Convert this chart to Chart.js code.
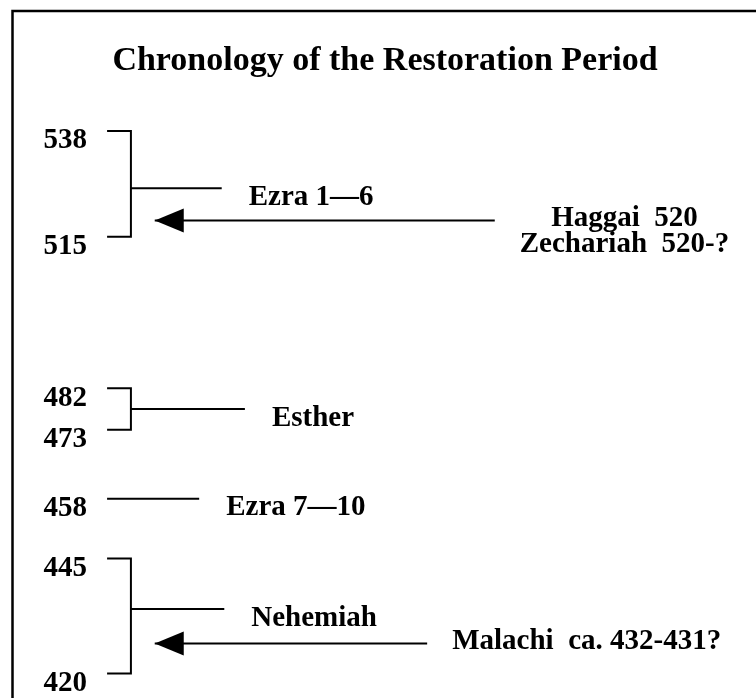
<!DOCTYPE html>
<html lang="en">
<head>
<meta charset="UTF-8">
<title>Chronology of the Restoration Period</title>
<script src="https://cdn.jsdelivr.net/npm/chart.js"></script>
<style>
  html, body { margin: 0; padding: 0; background: #fff; }
  #wrap { width: 756px; height: 698px; }
</style>
</head>
<body>
<div id="wrap"><canvas id="myChart"></canvas></div>
<script>
// years shown on the left (BC)
const years = [538, 515, 482, 473, 458, 445, 420];

// books and the span of years they cover
const periodNames = ['Ezra 1\u20146', 'Esther', 'Ezra 7\u201410', 'Nehemiah'];
const periodStart = [538, 482, 458, 445];
const periodEnd   = [515, 473, 458, 420];
const periodMid   = [525.5, 477.5, 458, 434];   // where the connector leaves the bracket

// prophets, with the year their arrow points at
const prophetNames = [['Haggai  520', 'Zechariah  520-?'], ['Malachi  ca. 432-431?']];
const prophetYear  = [518.5, 426.5];

// horizontal layout, x axis runs 0..100
const lay = {
  tickX: 1.1,
  spineX: 4.8,
  lineEnd: [18.9, 22.5, 15.4, 19.3],
  arrowTip: 8.5,
  arrowTail: [61.3, 50.8]
};

const FONT = '"Liberation Serif", "Times New Roman", serif';

const datasets = [];
periodNames.forEach((name, i) => {
  if (periodStart[i] !== periodEnd[i]) {
    datasets.push({
      data: [
        { x: lay.tickX, y: periodStart[i] },
        { x: lay.spineX, y: periodStart[i] },
        { x: lay.spineX, y: periodEnd[i] },
        { x: lay.tickX, y: periodEnd[i] }
      ]
    });
    datasets.push({
      label: name, kind: 'period',
      data: [{ x: lay.spineX, y: periodMid[i] }, { x: lay.lineEnd[i], y: periodMid[i] }]
    });
  } else {
    datasets.push({
      label: name, kind: 'period',
      data: [{ x: lay.tickX, y: periodMid[i] }, { x: lay.lineEnd[i], y: periodMid[i] }]
    });
  }
});
prophetNames.forEach((lines, i) => {
  datasets.push({
    label: lines.join(' / '), kind: 'arrow', lines: lines,
    data: [{ x: lay.arrowTail[i], y: prophetYear[i] }, { x: lay.arrowTip, y: prophetYear[i] }]
  });
});
datasets.forEach(d => {
  d.showLine = true;
  d.borderColor = '#000';
  d.borderWidth = 2;
  d.pointRadius = 0;
  d.pointHoverRadius = 0;
  d.fill = false;
});

// frame, arrow heads and the text next to the lines
const extras = {
  id: 'extras',
  beforeDraw(chart) {
    const ctx = chart.ctx;
    ctx.save();
    ctx.strokeStyle = '#000';
    ctx.lineWidth = 2.5;
    ctx.beginPath();
    ctx.moveTo(12.5, chart.height + 5);
    ctx.lineTo(12.5, 11);
    ctx.lineTo(chart.width + 5, 11);
    ctx.stroke();
    ctx.restore();
  },
  afterDatasetsDraw(chart) {
    const ctx = chart.ctx;
    const xs = chart.scales.x, ys = chart.scales.y;
    ctx.save();
    ctx.fillStyle = '#000';
    ctx.font = 'bold 29px ' + FONT;
    ctx.textBaseline = 'middle';
    chart.data.datasets.forEach(d => {
      if (!d.kind) return;
      const first = d.data[0], last = d.data[d.data.length - 1];
      if (d.kind === 'period') {
        ctx.textAlign = 'left';
        ctx.fillText(d.label, xs.getPixelForValue(last.x) + 27, ys.getPixelForValue(last.y) + 9);
      } else {
        const tx = xs.getPixelForValue(last.x), ty = ys.getPixelForValue(last.y);
        ctx.beginPath();
        ctx.moveTo(tx, ty);
        ctx.lineTo(tx + 29, ty - 12);
        ctx.lineTo(tx + 29, ty + 12);
        ctx.closePath();
        ctx.fill();
        const x0 = xs.getPixelForValue(first.x) + 25;
        const maxW = Math.max(...d.lines.map(s => ctx.measureText(s).width));
        ctx.textAlign = 'center';
        d.lines.forEach((s, k) => {
          ctx.fillText(s, x0 + maxW / 2, ty - 2 + k * 26);
        });
      }
    });
    ctx.restore();
  }
};

new Chart(document.getElementById('myChart'), {
  type: 'scatter',
  data: { datasets: datasets },
  options: {
    responsive: true,
    maintainAspectRatio: false,
    animation: false,
    layout: { padding: { left: 26, right: 12, top: 0, bottom: 20 } },
    plugins: {
      legend: { display: false },
      tooltip: { enabled: false },
      title: {
        display: true,
        text: 'Chronology of the Restoration Period',
        color: '#000',
        font: { family: FONT, size: 34, weight: 'bold' },
        padding: { top: 41, bottom: 10 }
      }
    },
    scales: {
      x: { type: 'linear', min: 0, max: 100, display: false },
      y: {
        type: 'linear',
        min: 419,
        max: 546.5,
        afterBuildTicks: axis => { axis.ticks = years.map(v => ({ value: v })); },
        afterFit: axis => {
          axis.width = 74;
          axis.paddingTop = 0;
          axis.paddingBottom = 0;
        },
        grid: { display: false, drawTicks: false },
        border: { display: false },
        ticks: {
          color: '#000',
          font: { family: FONT, size: 29, weight: 'bold' },
          padding: 13,
          labelOffset: 10,
          callback: v => String(v)
        }
      }
    }
  },
  plugins: [extras]
});
</script>
</body>
</html>
